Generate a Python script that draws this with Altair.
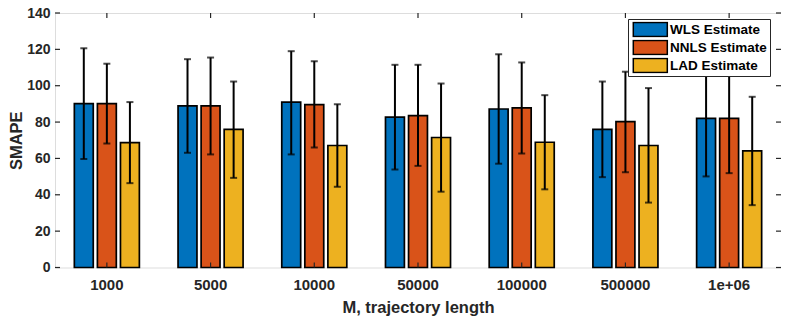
import altair as alt
import pandas as pd

groups = ["1000", "5000", "10000", "50000", "100000", "500000", "1e+06"]
series = ["WLS Estimate", "NNLS Estimate", "LAD Estimate"]
colors = ["#0072BD", "#D95319", "#EDB120"]

wls_mean = [90.1, 88.9, 91.0, 82.7, 87.2, 76.0, 82.0]
wls_lo = [59.7, 63.1, 62.2, 53.9, 57.1, 49.7, 50.1]
wls_hi = [120.6, 114.6, 119.0, 111.5, 117.3, 102.3, 113.9]

nnls_mean = [90.1, 88.9, 89.6, 83.6, 87.8, 80.3, 82.0]
nnls_lo = [68.2, 62.2, 66.0, 55.9, 62.7, 52.4, 51.9]
nnls_hi = [112.1, 115.5, 113.5, 111.5, 112.8, 107.7, 112.1]

lad_mean = [68.7, 76.0, 67.1, 71.5, 68.9, 67.1, 64.2]
lad_lo = [46.4, 49.3, 44.4, 41.7, 43.0, 35.7, 34.3]
lad_hi = [91.0, 102.3, 89.8, 101.2, 94.8, 98.7, 93.9]

y_ticks = [0, 20, 40, 60, 80, 100, 120, 140]

W, H = 726, 254.5
FONT = "Liberation Sans"
INK = "#262626"

rows = []
for s, m, lo, hi in [
    (series[0], wls_mean, wls_lo, wls_hi),
    (series[1], nnls_mean, nnls_lo, nnls_hi),
    (series[2], lad_mean, lad_lo, lad_hi),
]:
    for g, a, b, c in zip(groups, m, lo, hi):
        rows.append({"group": g, "series": s, "mean": a, "lo": b, "hi": c})
df = pd.DataFrame(rows)
tick_df = pd.DataFrame({"v": y_ticks})
grp_df = pd.DataFrame({"group": groups})

x_scale = alt.Scale(paddingInner=0.373, paddingOuter=0.1865)
y_scale = alt.Scale(domain=[0, 140], nice=False)

x_axis = alt.Axis(
    title="M, trajectory length",
    domain=False,
    ticks=False,
    tickSize=0,
    labelAngle=0,
    labelPadding=21.7,
    labelBaseline="alphabetic",
    labelOverlap=False,
    labelFont=FONT,
    labelFontSize=15,
    labelFontWeight="bold",
    labelColor=INK,
    titleFont=FONT,
    titleFontSize=16.5,
    titleFontWeight="bold",
    titleColor=INK,
    titleBaseline="alphabetic",
    titleY=44.7,
)
y_axis = alt.Axis(
    title="SMAPE",
    values=y_ticks,
    domain=False,
    ticks=False,
    tickSize=0,
    grid=False,
    labelOverlap=False,
    labelPadding=5,
    labelFont=FONT,
    labelFontSize=14,
    labelFontWeight="bold",
    labelColor=INK,
    titleFont=FONT,
    titleFontSize=16.5,
    titleFontWeight="bold",
    titleColor=INK,
    titleBaseline="alphabetic",
    titleX=-33.5,
)


def X():
    return alt.X("group:N", sort=groups, scale=x_scale, axis=x_axis, title="M, trajectory length")


def Y(field):
    return alt.Y(field, scale=y_scale, axis=y_axis, title="SMAPE")


xoff = alt.XOffset(
    "series:N", sort=series, scale=alt.Scale(paddingInner=0.18, paddingOuter=0)
)

base = alt.Chart(df)

bars = base.mark_bar(stroke="black", strokeWidth=1.7).encode(
    x=X(),
    xOffset=xoff,
    y=Y("mean:Q"),
    color=alt.Color(
        "series:N",
        sort=series,
        scale=alt.Scale(domain=series, range=colors),
        legend=alt.Legend(
            title=None,
            orient="none",
            legendX=573,
            legendY=6,
            padding=2.5,
            fillColor="white",
            strokeColor=INK,
            symbolType="M-1,-1.167L4.667,-1.167L4.667,1.167L-1,1.167Z",
            symbolSize=144,
            symbolStrokeColor="black",
            symbolStrokeWidth=1.5,
            symbolOpacity=1,
            symbolOffset=1.8,
            labelOffset=23.7,
            clipHeight=16,
            rowPadding=2,
            labelFont=FONT,
            labelFontSize=13.5,
            labelFontWeight="bold",
            labelColor="black",
        ),
    ),
)

err = base.mark_rule(color="black", strokeWidth=2).encode(
    x=X(), xOffset=xoff, y=Y("lo:Q"), y2="hi:Q"
)
cap_lo = base.mark_tick(color="black", thickness=2, size=7, orient="horizontal").encode(
    x=X(), xOffset=xoff, y=Y("lo:Q")
)
cap_hi = base.mark_tick(color="black", thickness=2, size=7, orient="horizontal").encode(
    x=X(), xOffset=xoff, y=Y("hi:Q")
)

yt_left = alt.Chart(tick_df).mark_rule(color=INK, strokeWidth=1.2).encode(
    y=Y("v:Q"), x=alt.value(0), x2=alt.value(5)
)
yt_right = alt.Chart(tick_df).mark_rule(color=INK, strokeWidth=1.2).encode(
    y=Y("v:Q"), x=alt.value(W - 5), x2=alt.value(W)
)
xt_top = alt.Chart(grp_df).mark_rule(color=INK, strokeWidth=1.2).encode(
    x=X(), y=alt.value(0), y2=alt.value(5)
)
xt_bot = alt.Chart(grp_df).mark_rule(color=INK, strokeWidth=1.2).encode(
    x=X(), y=alt.value(H - 5), y2=alt.value(H)
)

chart = (
    alt.layer(bars, err, cap_lo, cap_hi, yt_left, yt_right, xt_top, xt_bot)
    .properties(
        width=W,
        height=H,
        autosize=alt.AutoSizeParams(type="none"),
        padding={"left": 47, "top": 5, "right": 0, "bottom": 48},
    )
    .configure_view(stroke=INK, strokeWidth=1.5)
    .configure(background="white")
)

chart.save("out.html", embed_options={"renderer": "svg", "actions": False})
